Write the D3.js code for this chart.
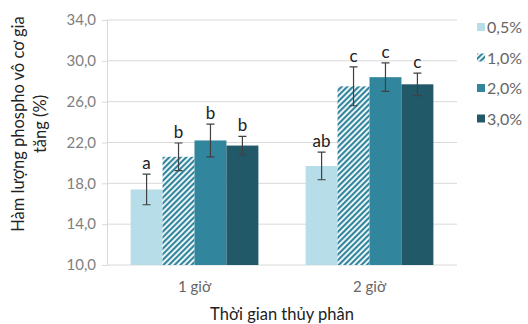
<!DOCTYPE html>
<html>
<head>
<meta charset="utf-8">
<script src="https://cdn.jsdelivr.net/npm/d3@7"></script>
<style>
  body { margin: 0; background: #fff; }
  text { font-family: Lato, "Open Sans", sans-serif; }
</style>
</head>
<body>
<div id="main"></div>
<script>
const width = 528;
const height = 324;
const margin = { top: 20, right: 71, bottom: 59, left: 107 };

const categories = ['1 giờ', '2 giờ'];
const seriesNames = ['0,5%', '1,0%', '2,0%', '3,0%'];
const values = [
  [17.4, 19.7],
  [20.6, 27.5],
  [22.2, 28.4],
  [21.7, 27.7]
];
const errors = [
  [1.5, 1.35],
  [1.35, 1.9],
  [1.6, 1.4],
  [0.9, 1.1]
];
const letters = [
  ['a', 'ab'],
  ['b', 'c'],
  ['b', 'c'],
  ['b', 'c']
];
const yTicks = [10, 14, 18, 22, 26, 30, 34];
const yTitleLines = ['Hàm lượng phospho vô cơ gia', 'tăng (%)'];
const colors = ['#b7dde8', 'url(#hatch)', '#31859c', '#215968'];

const svg = d3.select('#main')
  .append('svg')
  .attr('width', width)
  .attr('height', height);

const defs = svg.append('defs');
const pat = defs.append('pattern')
  .attr('id', 'hatch')
  .attr('patternUnits', 'userSpaceOnUse')
  .attr('width', 4)
  .attr('height', 4)
  .attr('patternTransform', 'rotate(45)');
pat.append('rect').attr('width', 4).attr('height', 4).attr('fill', '#fff');
pat.append('rect').attr('width', 2.2).attr('height', 4).attr('fill', '#31859c');

const innerWidth = width - margin.left - margin.right;
const innerHeight = height - margin.top - margin.bottom;

const g = svg.append('g')
  .attr('transform', `translate(${margin.left},${margin.top})`);

const x0 = d3.scaleBand()
  .domain(categories)
  .range([0, innerWidth])
  .paddingInner(0.27)
  .paddingOuter(0.135);

const x1 = d3.scaleBand()
  .domain(seriesNames)
  .range([0, x0.bandwidth()]);

const y = d3.scaleLinear()
  .domain([10, 34])
  .range([innerHeight, 0]);

// gridlines
g.selectAll('.grid')
  .data(yTicks.slice(1))
  .join('line')
  .attr('x1', 0)
  .attr('x2', innerWidth)
  .attr('y1', d => y(d))
  .attr('y2', d => y(d))
  .attr('stroke', '#d9d9d9')
  .attr('stroke-width', 1);

const yAxis = d3.axisLeft(y)
  .tickValues(yTicks)
  .tickSize(5)
  .tickPadding(6)
  .tickFormat(d => d3.format('.1f')(d).replace('.', ','));

const yAxisG = g.append('g').call(yAxis);
yAxisG.select('.domain').attr('stroke', '#d9d9d9');
yAxisG.selectAll('.tick line').attr('stroke', '#d9d9d9');
yAxisG.selectAll('.tick text')
  .attr('fill', '#808080')
  .style('font-size', '15px');

// x baseline
g.append('line')
  .attr('x1', 0)
  .attr('x2', innerWidth)
  .attr('y1', innerHeight)
  .attr('y2', innerHeight)
  .attr('stroke', '#d9d9d9');

g.selectAll('.xlab')
  .data(categories)
  .join('text')
  .attr('x', d => x0(d) + x0.bandwidth() / 2)
  .attr('y', innerHeight + 27)
  .attr('text-anchor', 'middle')
  .attr('fill', '#666')
  .style('font-size', '15px')
  .text(d => d);

const series = g.selectAll('.series')
  .data(seriesNames)
  .join('g')
  .attr('class', 'series');

series.each(function (name, si) {
  const sg = d3.select(this);
  const rows = categories.map((c, ci) => ({
    c, v: values[si][ci], e: errors[si][ci], l: letters[si][ci]
  }));
  const bx = d => x0(d.c) + x1(name);
  const cx = d => bx(d) + x1.bandwidth() / 2;

  sg.selectAll('rect')
    .data(rows)
    .join('rect')
    .attr('x', bx)
    .attr('y', d => y(d.v))
    .attr('width', x1.bandwidth())
    .attr('height', d => innerHeight - y(d.v))
    .attr('fill', colors[si]);

  sg.selectAll('.err')
    .data(rows)
    .join('path')
    .attr('d', d => {
      const t = y(d.v + d.e), b = y(d.v - d.e), c = cx(d);
      return `M${c},${t}V${b}M${c - 4},${t}H${c + 4}M${c - 4},${b}H${c + 4}`;
    })
    .attr('stroke', '#404040')
    .attr('stroke-width', 1.2)
    .attr('fill', 'none');

  sg.selectAll('.lbl')
    .data(rows)
    .join('text')
    .attr('x', cx)
    .attr('y', d => y(d.v + d.e) - 5)
    .attr('text-anchor', 'middle')
    .attr('fill', '#222')
    .style('font-size', '17px')
    .text(d => d.l);
});

// axis titles
svg.append('text')
  .attr('x', margin.left + innerWidth / 2)
  .attr('y', 320)
  .attr('text-anchor', 'middle')
  .attr('fill', '#222')
  .style('font-size', '16.5px')
  .text('Thời gian thủy phân');

svg.selectAll('.ytitle')
  .data(yTitleLines)
  .join('text')
  .attr('class', 'ytitle')
  .attr('transform', (d, i) => `translate(${24 + i * 22},124) rotate(-90)`)
  .attr('text-anchor', 'middle')
  .attr('fill', '#222')
  .style('font-size', '16.5px')
  .text(d => d);

// legend
const legend = svg.append('g')
  .attr('transform', 'translate(477,27)');
const li = legend.selectAll('g')
  .data(seriesNames)
  .join('g')
  .attr('transform', (d, i) => `translate(0,${i * 30.5})`);
li.append('rect')
  .attr('x', 0)
  .attr('y', -4)
  .attr('width', 8)
  .attr('height', 8)
  .attr('fill', (d, i) => colors[i]);
li.append('text')
  .attr('x', 10)
  .attr('y', 6)
  .attr('fill', '#666')
  .style('font-size', '16px')
  .text(d => d);
</script>
</body>
</html>
